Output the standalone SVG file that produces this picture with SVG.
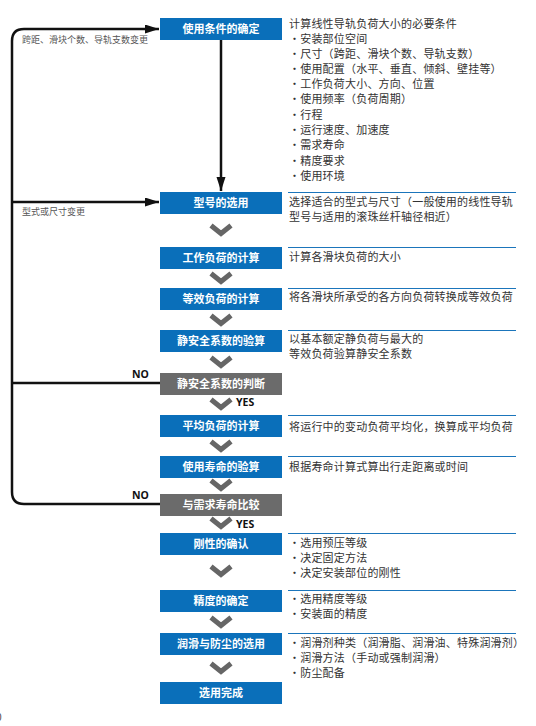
<svg xmlns="http://www.w3.org/2000/svg" width="536" height="726" viewBox="0 0 536 726">
<defs>
<style>
.blue{fill:#0a6fba}
.gray{fill:#6b6b6b}
.bt{font-family:"Noto Sans CJK SC",sans-serif;font-size:11px;font-weight:bold;fill:#ffffff;text-anchor:middle}
.desc{font-family:"Noto Sans CJK SC",sans-serif;font-size:11px;fill:#333333;letter-spacing:0.2px}
.rule{stroke:#1b75bb;stroke-width:1}
.lbl{font-family:"Noto Sans CJK SC",sans-serif;font-size:9px;fill:#555555}
.yn{font-family:"Noto Sans","Noto Sans CJK SC",sans-serif;font-size:10.5px;font-weight:bold;fill:#111111}
.chev{fill:none;stroke:#666666;stroke-width:5;stroke-linejoin:miter}
.line{fill:none;stroke:#111111;stroke-width:2.5}
</style>
<marker id="ah" markerUnits="userSpaceOnUse" markerWidth="15" markerHeight="10" refX="14" refY="4.5" orient="auto">
<path d="M0,0 L14,4.5 L0,9 z" fill="#111111"/>
</marker>
<polyline id="cv" class="chev" points="-10,-4.5 0,3.5 10,-4.5"/>
</defs>
<g id="connectors">
<path class="line" d="M160,504 H24 Q12,504 12,492 V41 Q12,29 24,29 H159" marker-end="url(#ah)"/>
<path class="line" d="M12,202 H159" marker-end="url(#ah)"/>
<path class="line" d="M12,383 H160"/>
<path class="line" d="M221,40 V191" marker-end="url(#ah)"/>
<use href="#cv" x="221" y="230"/>
<use href="#cv" x="221" y="278"/>
<use href="#cv" x="221" y="320"/>
<use href="#cv" x="221" y="362"/>
<use href="#cv" x="221" y="404"/>
<use href="#cv" x="221" y="446"/>
<use href="#cv" x="221" y="485"/>
<use href="#cv" x="221" y="523"/>
<use href="#cv" x="221" y="571"/>
<use href="#cv" x="221" y="622"/>
<use href="#cv" x="221" y="668"/>
<text class="lbl" x="22" y="43">跨距、滑块个数、导轨支数变更</text>
<text class="lbl" x="22" y="215">型式或尺寸变更</text>
<text class="yn" x="132" y="378">NO</text>
<text class="yn" x="132" y="499">NO</text>
<text class="yn" x="236" y="406">YES</text>
<text class="yn" x="236" y="528">YES</text>
</g>
<g id="n1">
<rect class="blue" x="160" y="18" width="122" height="22"/>
<text class="bt" x="221" y="33">使用条件的确定</text>
<text class="desc" x="289" y="28">计算线性导轨负荷大小的必要条件</text>
<text class="desc" x="289" y="43">・安装部位空间</text>
<text class="desc" x="289" y="58">・尺寸（跨距、滑块个数、导轨支数）</text>
<text class="desc" x="289" y="73">・使用配置（水平、垂直、倾斜、壁挂等）</text>
<text class="desc" x="289" y="88">・工作负荷大小、方向、位置</text>
<text class="desc" x="289" y="103">・使用频率（负荷周期）</text>
<text class="desc" x="289" y="119">・行程</text>
<text class="desc" x="289" y="134">・运行速度、加速度</text>
<text class="desc" x="289" y="149">・需求寿命</text>
<text class="desc" x="289" y="165">・精度要求</text>
<text class="desc" x="289" y="180">・使用环境</text>
</g>
<g id="n2">
<rect class="blue" x="160" y="192" width="122" height="22"/>
<text class="bt" x="221" y="207">型号的选用</text>
<line class="rule" x1="288" y1="192.5" x2="516" y2="192.5"/>
<text class="desc" x="289" y="206">选择适合的型式与尺寸（一般使用的线性导轨</text>
<text class="desc" x="289" y="221">型号与适用的滚珠丝杆轴径相近）</text>
</g>
<g id="n3">
<rect class="blue" x="160" y="247" width="122" height="22"/>
<text class="bt" x="221" y="262">工作负荷的计算</text>
<line class="rule" x1="288" y1="247.5" x2="516" y2="247.5"/>
<text class="desc" x="289" y="261">计算各滑块负荷的大小</text>
</g>
<g id="n4">
<rect class="blue" x="160" y="288" width="122" height="22"/>
<text class="bt" x="221" y="303">等效负荷的计算</text>
<line class="rule" x1="288" y1="288.5" x2="516" y2="288.5"/>
<text class="desc" x="289" y="301">将各滑块所承受的各方向负荷转换成等效负荷</text>
</g>
<g id="n5">
<rect class="blue" x="160" y="330" width="122" height="22"/>
<text class="bt" x="221" y="345">静安全系数的验算</text>
<line class="rule" x1="288" y1="330.5" x2="516" y2="330.5"/>
<text class="desc" x="289" y="343">以基本额定静负荷与最大的</text>
<text class="desc" x="289" y="358">等效负荷验算静安全系数</text>
</g>
<g id="n6">
<rect class="gray" x="160" y="373" width="122" height="22"/>
<text class="bt" x="221" y="388">静安全系数的判断</text>
</g>
<g id="n7">
<rect class="blue" x="160" y="415" width="122" height="22"/>
<text class="bt" x="221" y="430">平均负荷的计算</text>
<line class="rule" x1="288" y1="415.5" x2="516" y2="415.5"/>
<text class="desc" x="289" y="431">将运行中的变动负荷平均化，换算成平均负荷</text>
</g>
<g id="n8">
<rect class="blue" x="160" y="456" width="122" height="22"/>
<text class="bt" x="221" y="471">使用寿命的验算</text>
<line class="rule" x1="288" y1="456.5" x2="516" y2="456.5"/>
<text class="desc" x="289" y="471">根据寿命计算式算出行走距离或时间</text>
</g>
<g id="n9">
<rect class="gray" x="160" y="494" width="122" height="22"/>
<text class="bt" x="221" y="509">与需求寿命比较</text>
</g>
<g id="n10">
<rect class="blue" x="160" y="533" width="122" height="22"/>
<text class="bt" x="221" y="548">刚性的确认</text>
<line class="rule" x1="288" y1="533.5" x2="516" y2="533.5"/>
<text class="desc" x="289" y="547">・选用预压等级</text>
<text class="desc" x="289" y="562">・决定固定方法</text>
<text class="desc" x="289" y="577">・决定安装部位的刚性</text>
</g>
<g id="n11">
<rect class="blue" x="160" y="590" width="122" height="22"/>
<text class="bt" x="221" y="605">精度的确定</text>
<line class="rule" x1="288" y1="590.5" x2="516" y2="590.5"/>
<text class="desc" x="289" y="603">・选用精度等级</text>
<text class="desc" x="289" y="618">・安装面的精度</text>
</g>
<g id="n12">
<rect class="blue" x="160" y="633" width="122" height="22"/>
<text class="bt" x="221" y="648">润滑与防尘的选用</text>
<line class="rule" x1="288" y1="633.5" x2="516" y2="633.5"/>
<text class="desc" x="289" y="647">・润滑剂种类（润滑脂、润滑油、特殊润滑剂）</text>
<text class="desc" x="289" y="662">・润滑方法（手动或强制润滑）</text>
<text class="desc" x="289" y="677">・防尘配备</text>
</g>
<g id="n13">
<rect class="blue" x="160" y="682" width="122" height="22"/>
<text class="bt" x="221" y="697">选用完成</text>
</g>
<text x="-4" y="721" font-family="Liberation Sans,sans-serif" font-size="10" fill="#444444">0</text>
</svg>
